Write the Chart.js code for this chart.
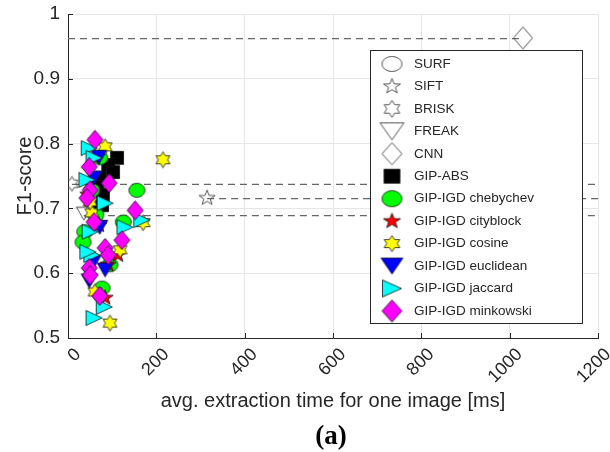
<!DOCTYPE html>
<html>
<head>
<meta charset="utf-8">
<script src="https://cdn.jsdelivr.net/npm/chart.js@4.4.0/dist/chart.umd.min.js"></script>
<style>
  html, body { margin: 0; padding: 0; background: #fff; }
</style>
</head>
<body>
<canvas id="chart" width="610" height="452"></canvas>
<script>
// axis ticks
const xTicks = [0, 200, 400, 600, 800, 1000, 1200];
const yTicks = [0.5, 0.6, 0.7, 0.8, 0.9, 1];

// legend names, in legend order
const seriesNames = ["SURF", "SIFT", "BRISK", "FREAK", "CNN", "GIP-ABS",
  "GIP-IGD chebychev", "GIP-IGD cityblock", "GIP-IGD cosine",
  "GIP-IGD euclidean", "GIP-IGD jaccard", "GIP-IGD minkowski"];

// [extraction time ms, F1-score]
const surf = [[55, 0.74]];
const sift = [[315, 0.716]];
const brisk = [[9, 0.738]];
const freak = [[36, 0.692]];
const cnn = [[1030, 0.963]];
const gipAbs = [[111, 0.778], [91, 0.767], [102, 0.756], [72, 0.747], [66, 0.733],
  [79, 0.721], [77, 0.705], [63, 0.694]];
const chebychev = [[156, 0.728], [125, 0.679], [38, 0.664], [34, 0.648], [77, 0.577],
  [95, 0.613], [72, 0.778], [54, 0.728], [63, 0.69]];
const cityblock = [[70, 0.674], [113, 0.628], [84, 0.562], [61, 0.778], [45, 0.721],
  [91, 0.613]];
const cosine = [[215, 0.775], [84, 0.795], [170, 0.678], [118, 0.636], [95, 0.523],
  [61, 0.571], [54, 0.693], [50, 0.71]];
const euclidean = [[70, 0.779], [59, 0.747], [72, 0.671], [84, 0.605], [48, 0.588],
  [57, 0.617]];
const jaccard = [[48, 0.793], [59, 0.778], [43, 0.744], [84, 0.708], [50, 0.664],
  [129, 0.671], [167, 0.682], [54, 0.628], [45, 0.633], [82, 0.548], [59, 0.531]];
const minkowski = [[61, 0.806], [48, 0.764], [93, 0.739], [50, 0.728], [43, 0.716],
  [59, 0.679], [152, 0.697], [122, 0.651], [84, 0.639], [91, 0.628], [48, 0.608],
  [50, 0.597], [72, 0.565]];

// best-score reference lines
const cnnLine = [[0, 0.962], [1030, 0.962]];
const briskLine = [[9, 0.737], [1200, 0.737]];
const siftLine = [[315, 0.715], [1200, 0.715]];
const freakLine = [[36, 0.689], [1200, 0.689]];

const seriesData = [surf, sift, brisk, freak, cnn, gipAbs, chebychev, cityblock,
  cosine, euclidean, jaccard, minkowski];
const refLines = [cnnLine, briskLine, siftLine, freakLine];

const FONT = "'Liberation Sans', Arial, sans-serif";
const TEXT = "#262626";

/**
 * Build a marker image (MATLAB-like symbols) on a small canvas
 */
function makeMarker(shape, w, h, fill, stroke, lw) {
  const c = document.createElement("canvas");
  c.width = Math.ceil(w + 3);
  c.height = Math.ceil(h + 3);
  const g = c.getContext("2d");
  g.translate(c.width / 2, c.height / 2);
  const sx = w / 2, sy = h / 2;
  let pts = null;
  g.beginPath();
  if (shape === "circle") {
    g.ellipse(0, 0, sx, sy, 0, 0, Math.PI * 2);
  } else if (shape === "square") {
    pts = [[-1, -1], [1, -1], [1, 1], [-1, 1]];
  } else if (shape === "diamond") {
    pts = [[0, -1], [1, 0], [0, 1], [-1, 0]];
  } else if (shape === "triDown") {
    pts = [[-1, -1], [1, -1], [0, 1]];
  } else if (shape === "triRight") {
    pts = [[-1, -1], [1, 0], [-1, 1]];
  } else if (shape === "star5" || shape === "star6") {
    const n = shape === "star5" ? 5 : 6;
    const inner = shape === "star5" ? 0.4 : 0.58;
    pts = [];
    for (let i = 0; i < n * 2; i++) {
      const a = -Math.PI / 2 + (i * Math.PI) / n;
      const r = i % 2 ? inner : 1;
      pts.push([Math.cos(a) * r, Math.sin(a) * r]);
    }
  }
  if (pts) {
    pts.forEach((p, i) => {
      if (i === 0) g.moveTo(p[0] * sx, p[1] * sy);
      else g.lineTo(p[0] * sx, p[1] * sy);
    });
    g.closePath();
  }
  if (fill) {
    g.fillStyle = fill;
    g.fill();
  }
  g.lineWidth = lw;
  g.strokeStyle = stroke;
  g.lineJoin = "miter";
  g.stroke();
  return c;
}

// shape, fill, plot size, legend size
const styles = [
  ["circle", null, [15, 13], [20, 15]],
  ["star5", null, [17, 16], [18, 16]],
  ["star6", null, [14, 15], [18, 17]],
  ["triDown", null, [15, 13], [24, 17]],
  ["diamond", null, [19, 22], [20, 22]],
  ["square", "#000000", [13, 13], [16, 14]],
  ["circle", "#00ff00", [16, 14], [20, 16]],
  ["star5", "#ff0000", [17, 16], [18, 16]],
  ["star6", "#ffff00", [16, 16], [18, 16]],
  ["triDown", "#0000ff", [16, 14], [22, 16]],
  ["triRight", "#00ffff", [16, 15], [19, 17]],
  ["diamond", "#ff00ff", [16, 19], [20, 22]],
];

const plotMarkers = styles.map((s) =>
  makeMarker(s[0], s[2][0], s[2][1], s[1], s[1] ? "#111" : "#555", s[1] ? 0.8 : 1)
);
const legendMarkers = styles.map((s) =>
  makeMarker(s[0], s[3][0], s[3][1], s[1], s[1] ? "#111" : "#555", s[1] ? 0.8 : 1)
);

const toPoints = (arr) => arr.map((p) => ({ x: p[0], y: p[1] }));

const datasets = [];
refLines.forEach((line) => {
  datasets.push({
    data: toPoints(line),
    showLine: true,
    borderColor: "#666",
    borderWidth: 1.2,
    borderDash: [7, 5],
    pointRadius: 0,
    order: 100,
  });
});
seriesData.forEach((arr, i) => {
  datasets.push({
    label: seriesNames[i],
    data: toPoints(arr),
    pointStyle: plotMarkers[i],
    pointRadius: 8,
    order: -i,
  });
});

/**
 * Inward tick marks, legend box and the "(a)" caption
 */
const decorPlugin = {
  id: "decor",
  afterDraw(chart) {
    const ctx = chart.ctx;
    const area = chart.chartArea;
    const xs = chart.scales.x, ys = chart.scales.y;
    ctx.save();
    ctx.strokeStyle = TEXT;
    ctx.lineWidth = 1;
    xTicks.forEach((v) => {
      const px = Math.round(xs.getPixelForValue(v)) + 0.5;
      ctx.beginPath();
      ctx.moveTo(px, area.bottom);
      ctx.lineTo(px, area.bottom - 5);
      ctx.stroke();
    });
    yTicks.forEach((v) => {
      const py = Math.round(ys.getPixelForValue(v)) + 0.5;
      ctx.beginPath();
      ctx.moveTo(area.left, py);
      ctx.lineTo(area.left + 5, py);
      ctx.stroke();
    });

    // legend
    const lx = 370, ly = 50, lw = 212, lh = 273;
    ctx.fillStyle = "#fff";
    ctx.fillRect(lx, ly, lw, lh);
    ctx.strokeStyle = "#262626";
    ctx.strokeRect(lx + 0.5, ly + 0.5, lw, lh);
    ctx.font = "13.5px " + FONT;
    ctx.textBaseline = "middle";
    ctx.fillStyle = TEXT;
    seriesNames.forEach((name, i) => {
      const cy = ly + 14 + i * 22.45;
      const m = legendMarkers[i];
      ctx.drawImage(m, 392 - m.width / 2, cy - m.height / 2);
      ctx.fillText(name, 414, cy);
    });

    // caption
    ctx.font = "bold 27px 'Liberation Serif', 'Times New Roman', serif";
    ctx.textAlign = "center";
    ctx.fillStyle = "#000";
    ctx.fillText("(a)", (area.left + area.right) / 2 - 2, 437);
    ctx.restore();
  },
};

new Chart(document.getElementById("chart"), {
  type: "scatter",
  data: { datasets: datasets },
  plugins: [decorPlugin],
  options: {
    responsive: false,
    animation: false,
    layout: { padding: { left: 0, top: 14, right: 12, bottom: 0 } },
    plugins: {
      legend: { display: false },
      tooltip: { enabled: false },
    },
    scales: {
      x: {
        type: "linear",
        min: 0,
        max: 1200,
        afterBuildTicks: (s) => { s.ticks = xTicks.map((v) => ({ value: v })); },
        afterFit: (s) => {
          s.height = 114;
          s.paddingLeft = 0;
          s.paddingRight = 0;
        },
        grid: { color: "#e6e6e6", drawTicks: false },
        border: { color: TEXT },
        ticks: {
          minRotation: 45,
          maxRotation: 45,
          padding: 6,
          labelOffset: 10,
          color: TEXT,
          font: { size: 18, family: FONT },
          callback: (v) => String(v),
        },
        title: {
          display: true,
          text: "avg. extraction time for one image [ms]",
          color: TEXT,
          font: { size: 20, family: FONT },
          padding: { top: 0, bottom: 39 },
        },
      },
      y: {
        type: "linear",
        min: 0.5,
        max: 1,
        afterBuildTicks: (s) => { s.ticks = yTicks.map((v) => ({ value: v })); },
        afterFit: (s) => {
          s.width = 68;
          s.paddingTop = 0;
          s.paddingBottom = 0;
        },
        grid: { color: "#e6e6e6", drawTicks: false },
        border: { color: TEXT },
        ticks: {
          padding: 8,
          color: TEXT,
          font: { size: 19, family: FONT },
          callback: (v) => String(v),
        },
        title: {
          display: true,
          text: "F1-score",
          color: TEXT,
          font: { size: 20, family: FONT },
          padding: { top: 13, bottom: 0 },
        },
      },
    },
  },
});
</script>
</body>
</html>
